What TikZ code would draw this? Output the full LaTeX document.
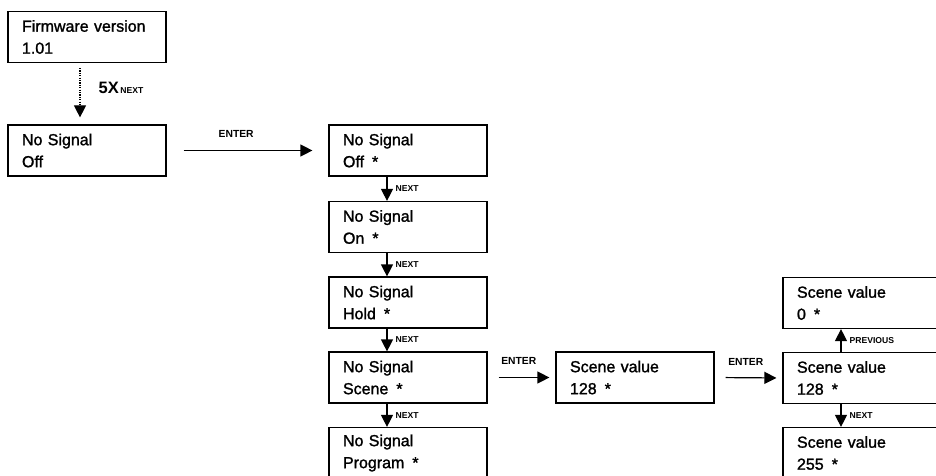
\documentclass[tikz,border=0pt]{standalone}
\usepackage{fontspec}
\setmainfont{Liberation Sans}
\newfontfamily\dispfont{Liberation Sans}[BoldFont={Liberation Sans},BoldFeatures={FakeBold=1.4}]
\usetikzlibrary{arrows.meta}
\pgfdeclarelayer{edgelayer}
\pgfdeclarelayer{nodelayer}
\pgfsetlayers{edgelayer,nodelayer,main}
\tikzstyle{display}=[rectangle,draw=black,fill=white,line width=1.2pt,minimum width=158pt,minimum height=51pt,text width=130pt,inner xsep=14pt,inner ysep=0pt,align=left,font=\dispfont\bfseries\fontsize{16}{22}\selectfont]
\tikzstyle{transition}=[-{Triangle[length=12pt,width=12pt]},draw=black,line width=1.2pt]
\tikzstyle{key}=[font=\bfseries\fontsize{8.6}{10}\selectfont,inner sep=0pt]
\tikzstyle{enterkey}=[font=\bfseries\fontsize{10.3}{12}\selectfont,inner sep=0pt]
\newcommand{\sel}{\enspace*}

\begin{document}
\begin{tikzpicture}[x=1pt,y=-1pt]
	\useasboundingbox (0,0) rectangle (936,476);
	\begin{pgfonlayer}{nodelayer}
		\node [style=display] (0) at (87, 37) {Firmware version\\1.01};
		\node [style=display] (1) at (87, 150.5) {No Signal\\Off};
		\node [style=display] (2) at (408, 150.5) {No Signal\\Off\sel};
		\node [style=display] (3) at (408, 227) {No Signal\\On\sel};
		\node [style=display] (4) at (408, 302.5) {No Signal\\Hold\sel};
		\node [style=display] (5) at (408, 377.5) {No Signal\\Scene\sel};
		\node [style=display] (6) at (408, 453) {No Signal\\Program\sel};
		\node [style=display] (7) at (635, 377.5) {Scene value\\128\sel};
		\node [style=display] (8) at (862, 303) {Scene value\\0\sel};
		\node [style=display] (9) at (862, 378) {Scene value\\128\sel};
		\node [style=display] (10) at (862, 453) {Scene value\\255\sel};
	\end{pgfonlayer}
	\begin{pgfonlayer}{edgelayer}
		\draw [style=transition, dash pattern=on 1.2pt off 1.2pt, shorten <=5pt, shorten >=7pt] ([xshift=-7pt]0.south) to node[anchor=base west, inner sep=0pt, xshift=18pt, font=\bfseries]{{\fontsize{16.5}{18}\selectfont 5X}\,{\fontsize{8.6}{10}\selectfont NEXT}} ([xshift=-7pt]1.north);
		\draw [style=transition, shorten <=17pt, shorten >=16pt] (1.east) to node[style=enterkey, above, pos=0.43, yshift=12pt]{ENTER} (2.west);
		\draw [style=transition, shorten <=11pt, shorten >=6pt] (5.east) to node[style=enterkey, above, pos=0.46, yshift=12pt]{ENTER} (7.west);
		\draw [style=transition, shorten <=11pt, shorten >=6pt] (7.east) to node[style=enterkey, above, pos=0.46, yshift=12pt]{ENTER} (9.west);
		\draw [style=transition] ([xshift=-21pt]2.south) to node[style=key, right, xshift=8pt]{NEXT} ([xshift=-21pt]3.north);
		\draw [style=transition] ([xshift=-21pt]3.south) to node[style=key, right, xshift=8pt]{NEXT} ([xshift=-21pt]4.north);
		\draw [style=transition] ([xshift=-21pt]4.south) to node[style=key, right, xshift=8pt]{NEXT} ([xshift=-21pt]5.north);
		\draw [style=transition] ([xshift=-21pt]5.south) to node[style=key, right, xshift=8pt]{NEXT} ([xshift=-21pt]6.north);
		\draw [style=transition] ([xshift=-21pt]9.north) to node[style=key, right, xshift=8pt]{PREVIOUS} ([xshift=-21pt]8.south);
		\draw [style=transition] ([xshift=-21pt]9.south) to node[style=key, right, xshift=8pt]{NEXT} ([xshift=-21pt]10.north);
	\end{pgfonlayer}
\end{tikzpicture}
\end{document}
